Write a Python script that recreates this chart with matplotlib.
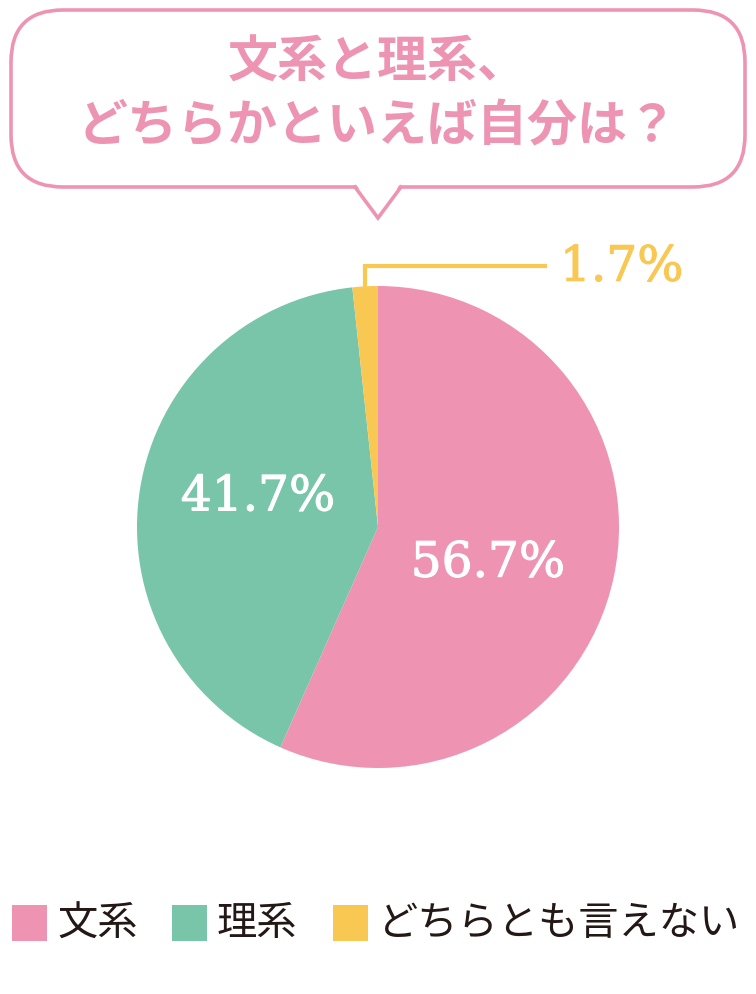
import numpy as np
import matplotlib
matplotlib.use("Agg")
import matplotlib.pyplot as plt
import matplotlib.patheffects as pe
from matplotlib.patches import FancyBboxPatch, Polygon, Rectangle

plt.rcParams["font.family"] = ["Noto Sans CJK JP", "DejaVu Sans"]

title = "文系と理系、\nどちらかといえば自分は？"
categories = ["文系", "理系", "どちらとも言えない"]
values = [56.7, 41.7, 1.7]
labels = ["56.7%", "41.7%", "1.7%"]
colors = ["#EF93B2", "#78C5AA", "#F9C852"]
pink_line = "#EE94B3"
text_dark = "#231815"

W, H = 756, 994
fig = plt.figure(figsize=(W / 100, H / 100), dpi=100)

# background layer in pixel coordinates
bg = fig.add_axes([0, 0, 1, 1])
bg.set_xlim(0, W)
bg.set_ylim(H, 0)
bg.axis("off")

# speech bubble
bubble = FancyBboxPatch((11, 10), 734, 177,
                        boxstyle="round,pad=0,rounding_size=52",
                        facecolor="white", edgecolor=pink_line, linewidth=2.6)
bg.add_patch(bubble)
bg.add_patch(Polygon([(356, 184), (378, 218), (400, 184)], closed=True,
                     facecolor="white", edgecolor="none", zorder=3))
bg.plot([355, 378, 401], [187, 218, 187], color=pink_line, lw=2.6,
        solid_joinstyle="miter", zorder=4)
bg.text(378, 95, title, ha="center", va="center", fontsize=36,
        fontweight="bold", color=pink_line, linespacing=1.3)

# legend
lx = [12, 172, 333]
for x, c, name in zip(lx, colors, categories):
    bg.add_patch(Rectangle((x, 905), 35, 36, facecolor=c, edgecolor="none"))
    bg.text(x + 45, 924, name, ha="left", va="center", fontsize=29,
            color=text_dark)

# pie
cx, cy, r = 378, 527, 241
ax = fig.add_axes([(cx - r) / W, (H - cy - r) / H, 2 * r / W, 2 * r / H])
wedges, _ = ax.pie(values, colors=colors, startangle=90, counterclock=False,
                   radius=1, wedgeprops=dict(linewidth=0))
ax.set_xlim(-1, 1)
ax.set_ylim(-1, 1)
ax.axis("off")


def pct_text(x, y, s, color, ha="center"):
    t = ax.text(x, y, s, ha=ha, va="center", color=color, clip_on=False,
                family="DejaVu Serif", fontsize=35)
    t.set_path_effects([pe.Stroke(linewidth=0.8, foreground=color),
                        pe.Normal()])


pct_text(0.456, -0.15, labels[0], "white")
pct_text(-0.498, 0.125, labels[1], "white")

# leader line for the small slice
w = wedges[2]
mid = np.deg2rad((w.theta1 + w.theta2) / 2)
px, py = np.cos(mid), np.sin(mid)
ax.plot([px, px, 0.693], [py, 1.083, 1.083], color=colors[2], lw=3,
        clip_on=False, solid_joinstyle="miter")
pct_text(0.755, 1.078, labels[2], colors[2], ha="left")

fig.savefig("out.png", dpi=100)
